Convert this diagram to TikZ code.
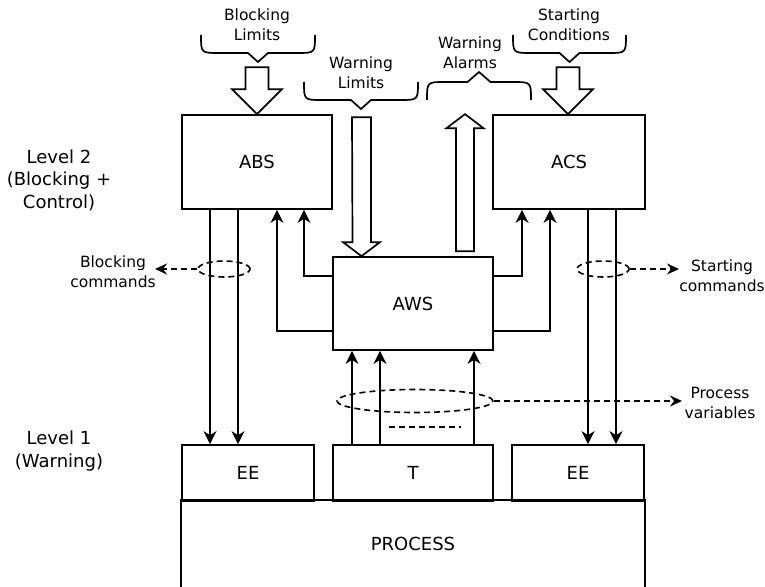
\documentclass[tikz,border=0pt]{standalone}
\usepackage{fontspec}
\setmainfont{DejaVu Sans}
\usetikzlibrary{arrows.meta,calc,shapes.geometric}
\begin{document}
\begin{tikzpicture}[x=1pt,y=-1pt,
  every path/.style={line width=1.7pt},
  box/.style={draw,line width=1.7pt,inner sep=0pt,font=\fontsize{18}{22}\selectfont},
  lbl/.style={align=center,inner sep=0pt,font=\fontsize{15.5}{20}\selectfont},
  lvl/.style={align=center,inner sep=0pt,font=\fontsize{18}{22.5}\selectfont},
  arr/.style={-{Stealth[length=13pt,width=13pt,inset=4pt]}},
  darr/.style={dash pattern=on 6pt off 4pt,-{Stealth[length=12pt,width=11pt,inset=4pt]}},
  dell/.style={draw,ellipse,dash pattern=on 6pt off 4pt,line width=1.6pt,inner sep=0pt},
  hollow/.style={draw,fill=white,line width=1.7pt,line join=miter}
]
\useasboundingbox (0,0) rectangle (765,586);

% boxes
\node[box,minimum width=150pt,minimum height=94pt] (ABS) at (257,162) {ABS};
\node[box,minimum width=152pt,minimum height=94pt] (ACS) at (569,162) {ACS};
\node[box,minimum width=160pt,minimum height=93pt] (AWS) at (413,303.5) {AWS};
\node[box,minimum width=132pt,minimum height=56pt] (EE1) at (248,473) {EE};
\node[box,minimum width=160pt,minimum height=56pt] (T) at (413,473) {T};
\node[box,minimum width=132pt,minimum height=56pt] (EE2) at (578,473) {EE};
\node[box,draw=none,minimum width=462pt,minimum height=85pt] (PROC) at (413,543.5) {PROCESS};
\draw (PROC.south west) -- (PROC.north west) -- (PROC.north east) -- (PROC.south east);

% level labels
\node[lvl] (L2) at (59,180) {Level 2\\(Blocking +\\Control)};
\node[lvl] (L1) at (59,451) {Level 1\\(Warning)};

% down arrows to EE
\draw[arr] ($(ABS.south)+(-47,0)$) -- ($(EE1.north)+(-38,0)$);
\draw[arr] ($(ABS.south)+(-19,0)$) -- ($(EE1.north)+(-10,0)$);
\draw[arr] ($(ACS.south)+(19,0)$) -- ($(EE2.north)+(10,0)$);
\draw[arr] ($(ACS.south)+(47,0)$) -- ($(EE2.north)+(38,0)$);

% up arrows T -> AWS
\draw[arr] ($(T.north)+(-61,0)$) -- ($(AWS.south)+(-61,0)$);
\draw[arr] ($(T.north)+(-33,0)$) -- ($(AWS.south)+(-33,0)$);
\draw[arr] ($(T.north)+(61,0)$) -- ($(AWS.south)+(61,0)$);

% AWS -> ABS / ACS
\draw[arr] ($(AWS.west)+(0,-27.5)$) -| ($(ABS.south)+(47,0)$);
\draw[arr] ($(AWS.west)+(0,27.5)$) -| ($(ABS.south)+(20,0)$);
\draw[arr] ($(AWS.east)+(0,-27.5)$) -| ($(ACS.south)+(-47,0)$);
\draw[arr] ($(AWS.east)+(0,27.5)$) -| ($(ACS.south)+(-19,0)$);

% hollow block arrows
\draw[hollow] ([shift={(-11.5,-47)}]ABS.north) -- ++(23,0) -- ++(0,22) -- ++(13.5,0)
  -- (ABS.north) -- ++(-25,-25) -- ++(13.5,0) -- cycle;
\coordinate (sct) at ($(ACS.north)+(-1,0)$);
\draw[hollow] ([shift={(-11.5,-47)}]sct) -- ++(23,0) -- ++(0,22) -- ++(13.5,0)
  -- (sct) -- ++(-25,-25) -- ++(13.5,0) -- cycle;
\coordinate (wlt) at ($(AWS.north)+(-51.5,0)$);
\draw[hollow] ([shift={(-9.5,-139)}]wlt) -- ++(19,0) -- ++(0,125) -- ++(9,0)
  -- (wlt) -- ++(-18.5,-14) -- ++(9.5,0) -- cycle;
\coordinate (wab) at ($(AWS.north)+(52,-5)$);
\draw[hollow] ([shift={(-9,0)}]wab) -- ++(0,-123) -- ++(-9.5,0) -- ++(18.5,-14)
  -- ++(18.5,14) -- ++(-9.5,0) -- ++(0,123) -- cycle;

% braces
\newcommand\braceDown[4]{% center, halfwidth, ytop, yline
  \draw ({#1-#2},#3) .. controls ({#1-#2},#4) .. ({#1-#2+18},#4) -- ({#1-10},#4)
    -- (#1,{#4+9}) -- ({#1+10},#4) -- ({#1+#2-18},#4) .. controls ({#1+#2},#4) .. ({#1+#2},#3);}
\braceDown{258}{57}{35}{53}
\braceDown{361}{57}{82}{100}
\braceDown{569.5}{56.5}{35}{53}
\draw (427,100) .. controls (427,82) .. (445,82) -- (467.5,82) -- (479,72) -- (490.5,82)
  -- (513,82) .. controls (531,82) .. (531,100);

% top labels
\node[lbl] (blim) at (257,25) {Blocking\\Limits};
\node[lbl] (scond) at (569,25) {Starting\\Conditions};
\node[lbl] (wlim) at (361,72.5) {Warning\\Limits};
\node[lbl] (walm) at (470,53) {Warning\\Alarms};

% dashed ellipses and commands
\node[dell,minimum width=52pt,minimum height=16pt] (e1) at (224,269) {};
\node[dell,minimum width=52pt,minimum height=16pt] (e2) at (603,269) {};
\node[dell,minimum width=156pt,minimum height=23pt] (e3) at (415,401) {};
\coordinate (bcend) at (155,269);
\coordinate (scend) at (679,269);
\coordinate (pvend) at (682,401);
\draw[darr] (e1.west) -- (bcend);
\draw[darr] (e2.east) -- (scend);
\draw[darr] (e3.east) -- (pvend);
\draw[dash pattern=on 6pt off 4pt] (389,427) -- (461,427);

\node[lbl] (bcmd) at (113,272) {Blocking\\commands};
\node[lbl] (scmd) at (722,276) {Starting\\commands};
\node[lbl] (pvar) at (720,403) {Process\\variables};
\end{tikzpicture}
\end{document}
